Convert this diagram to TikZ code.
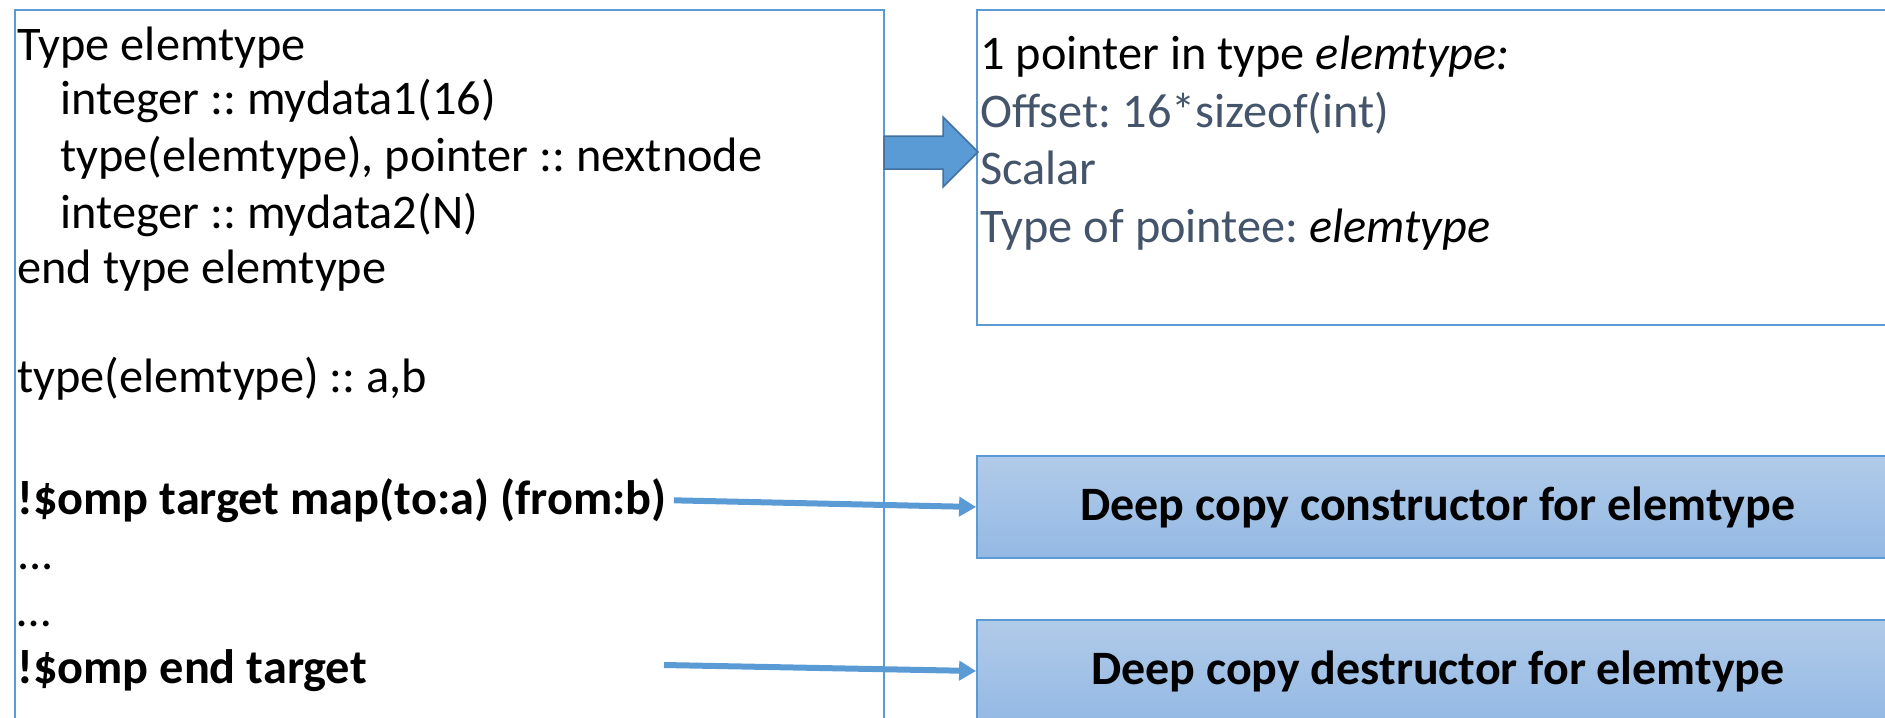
\documentclass[tikz,border=0pt]{standalone}
\usepackage{fontspec}
\setmainfont{Carlito}
\usetikzlibrary{arrows.meta}
\definecolor{colorFrame}{HTML}{5B9BD5}
\definecolor{colorBlock}{HTML}{41719C}
\definecolor{colorNote}{HTML}{44546A}
\definecolor{colorTop}{HTML}{B1CBE9}
\definecolor{colorBottom}{HTML}{94B9E4}
\tikzset{
   every path/.style={>={Triangle[length=0.34cm,width=0.38cm]}},
   frame/.style={draw=colorFrame,line width=0.04cm,inner sep=0pt},
   routine/.style={frame,top color=colorTop,bottom color=colorBottom,
     minimum width=18.44cm,minimum height=2.04cm,font=\fontsize{27.3}{32}\selectfont\bfseries},
   code/.style={anchor=base west,inner sep=0pt,font=\fontsize{27.5}{32}\selectfont},
   note/.style={code,text=colorNote},
   call/.style={->,draw=colorFrame,line width=0.12cm},
   blockarrow/.style={fill=colorFrame,draw=colorBlock,line width=0.03cm},
}
\newcommand{\kw}[1]{\textbf{#1}}
\frenchspacing
\begin{document}
\begin{tikzpicture}[x=0.02cm,y=-0.02cm]
      \path[use as bounding box,clip] (0,0) rectangle (1885,717);
      % source code frame
      \node[frame,minimum width=17.38cm,minimum height=15cm] (src) at (449.5,385) {};
      \node[code] (l1) at (17,60) {Type elemtype};
      \node[code] (l2) at (60,114) {integer :: mydata1(16)};
      \node[code] (l3) at (60,171) {type(elemtype), pointer :: nextnode};
      \node[code] (l4) at (60,228) {integer :: mydata2(N)};
      \node[code] (l5) at (17,283) {end type elemtype};
      \node[code] (l6) at (17,392) {type(elemtype) :: a,b};
      \node[code] (ompA) at (17,514) {\kw{!\$omp target map(to:a) (from:b)}};
      \node[code] (l8) at (17,569) {...};
      \node[code] (l9) at (17,626) {…};
      \node[code] (ompB) at (17,683) {\kw{!\$omp end target}};

      % pointer info
      \node[frame,minimum width=18.44cm,minimum height=6.3cm] (info) at (1438,167.5) {};
      \node[code] (i1) at (980,69) {1 pointer in type \textit{elemtype:}};
      \node[note] (i2) at (980,127) {Offset: 16*sizeof(int)};
      \node[note] (i3) at (980,184) {Scalar};
      \node[note] (i4) at (980,242) {Type of pointee: \textcolor{black}{\textit{elemtype}}};
      \draw[blockarrow] (884,136) -- (943,136) -- (943,117) -- (978,152)
        -- (943,187) -- (943,169) -- (884,169) -- cycle;

      % generated routines
      \node[routine] (ctor) at (1438,507) {Deep copy constructor for elemtype};
      \node[routine] (dtor) at (1438,671) {Deep copy destructor for elemtype};
      \coordinate (endB) at (664,665);
      \draw[call,shorten <=4pt] (ompA.east) -- (ctor.west);
      \draw[call] (endB) -- (dtor.west);
\end{tikzpicture}
\end{document}
